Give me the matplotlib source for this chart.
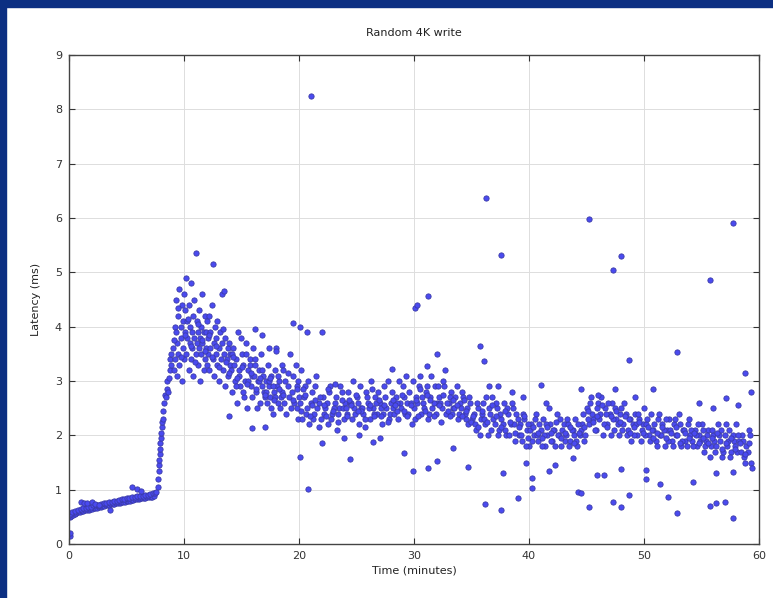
import matplotlib.pyplot as plt
from matplotlib.patches import Rectangle

# latency samples, grouped by phase of the test
warmup_t = [0.05, 0.2, 0.35, 0.5, 0.65, 0.8, 0.95, 1.1, 1.25, 1.4, 1.55, 1.7, 1.85, 2.0, 2.15, 2.3, 2.45,
            2.6, 2.75, 2.9, 3.05, 3.2, 3.35, 3.5, 3.65, 3.8, 3.95, 4.1, 4.25, 4.4, 4.55, 4.7, 4.85, 5.0,
            5.15, 5.3, 5.45, 5.6, 5.75, 5.9, 6.05, 6.2, 6.35, 6.5, 6.65, 6.8, 6.95, 7.1, 7.25, 7.4,
            0.1, 0.3, 0.55, 0.75, 1.0, 1.2, 1.45, 1.65, 1.9, 2.1, 2.35, 2.55, 2.8, 3.0, 3.25, 3.45, 3.7,
            3.9, 4.15, 4.35, 4.6, 4.8, 5.05, 5.25, 5.5, 5.7, 5.95, 6.15, 6.4, 6.6, 6.85, 7.05, 7.3, 7.45,
            1.0, 1.3, 1.6, 2.0, 2.3, 2.6, 5.5, 5.9, 6.3, 0.08, 0.12, 3.6]
warmup_ms = [0.50, 0.52, 0.54, 0.55, 0.57, 0.58, 0.59, 0.60, 0.61, 0.62, 0.63, 0.63, 0.64, 0.65, 0.66, 0.66,
             0.67, 0.68, 0.69, 0.70, 0.70, 0.71, 0.72, 0.72, 0.73, 0.74, 0.74, 0.75, 0.76, 0.76, 0.77, 0.78,
             0.78, 0.79, 0.80, 0.80, 0.81, 0.81, 0.82, 0.83, 0.83, 0.84, 0.84, 0.85, 0.85, 0.86, 0.86, 0.87,
             0.87, 0.88,
             0.56, 0.58, 0.61, 0.62, 0.64, 0.66, 0.67, 0.68, 0.69, 0.71, 0.72, 0.72, 0.74, 0.75, 0.76, 0.77,
             0.78, 0.79, 0.80, 0.81, 0.82, 0.83, 0.84, 0.84, 0.86, 0.87, 0.88, 0.89, 0.89, 0.90, 0.91, 0.92,
             0.93, 0.94,
             0.78, 0.75, 0.76, 0.78, 0.74, 0.72, 1.04, 1.02, 0.98, 0.15, 0.21, 0.62]

ramp_t = [7.6, 7.7, 7.75, 7.8, 7.8, 7.85, 7.9, 7.9, 7.95, 8.0, 8.0, 8.05, 8.1, 8.15, 8.2, 8.3, 8.35,
          8.4, 8.5, 8.55, 8.6, 8.7, 8.75, 8.8, 8.85, 8.9]
ramp_ms = [0.95, 1.05, 1.2, 1.35, 1.45, 1.55, 1.65, 1.75, 1.85, 1.95, 2.05, 2.15, 2.25, 2.3, 2.45, 2.6,
           2.75, 2.7, 2.85, 3.0, 2.8, 3.05, 3.2, 3.4, 3.3, 3.5]

peak_t = [9.0, 9.1, 9.2, 9.2, 9.3, 9.3, 9.4, 9.4, 9.5, 9.5, 9.6, 9.6, 9.7, 9.7, 9.8, 9.8, 9.9, 9.9, 10.0, 10.0,
          10.1, 10.1, 10.2, 10.2, 10.3, 10.3, 10.4, 10.4, 10.5, 10.5, 10.6, 10.6, 10.7, 10.7, 10.8, 10.8,
          10.9, 10.9, 11.0, 11.0,
          11.1, 11.1, 11.2, 11.2, 11.3, 11.3, 11.4, 11.4, 11.5, 11.5, 11.6, 11.6, 11.7, 11.7, 11.8, 11.8,
          11.9, 11.9, 12.0, 12.0,
          12.1, 12.1, 12.2, 12.2, 12.3, 12.3, 12.4, 12.5, 12.5, 12.6, 12.6, 12.7, 12.8, 12.8, 12.9, 12.9,
          13.0, 13.0, 13.1, 13.2,
          13.3, 13.3, 13.4, 13.5, 13.5, 13.6, 13.6, 13.7, 13.8, 13.8, 13.9, 13.9, 14.0, 14.0]
peak_ms = [3.6, 3.2, 4.0, 3.4, 3.9, 4.5, 3.1, 3.7, 4.2, 3.5, 4.7, 3.3, 4.0, 3.8, 4.4, 3.0, 3.6, 4.1, 4.6, 3.4,
           3.9, 4.3, 3.5, 4.9, 3.8, 4.1, 3.2, 4.4, 3.7, 4.0, 3.4, 4.8, 3.9, 3.6, 4.2, 3.1, 3.8, 4.5, 5.35, 3.5,
           3.7, 4.1, 3.3, 3.9, 4.3, 3.6, 3.0, 3.8, 4.0, 3.5, 4.6, 3.7, 3.2, 3.9, 4.2, 3.4, 3.6, 3.9, 4.1, 3.3,
           3.5, 3.8, 4.2, 3.2, 3.6, 3.9, 4.4, 5.15, 3.4, 3.7, 3.1, 4.0, 3.5, 3.8, 3.3, 4.1, 3.6, 3.0, 3.9, 3.4,
           3.7, 4.6, 3.2, 3.5, 4.65, 3.8, 2.9, 3.4, 3.6, 3.1, 2.35, 3.7, 3.3, 3.5]

settle_t = [14.1, 14.2, 14.3, 14.4, 14.5, 14.6, 14.7, 14.8, 14.9, 15.0, 15.1, 15.2, 15.3, 15.4, 15.5, 15.6,
            15.7, 15.8, 15.9, 16.0,
            14.15, 14.35, 14.55, 14.75, 14.95, 15.15, 15.35, 15.55, 15.75, 15.95, 16.1, 16.2, 16.3, 16.4,
            16.5, 16.6, 16.7, 16.8, 16.9, 17.0,
            16.15, 16.35, 16.55, 16.75, 16.95, 17.1, 17.2, 17.3, 17.4, 17.5, 17.6, 17.7, 17.8, 17.9, 18.0,
            18.1, 18.2, 18.3, 18.4, 18.5,
            17.15, 17.35, 17.55, 17.75, 17.95, 18.15, 18.35, 18.55, 18.6, 18.7, 18.8, 18.9, 19.0, 19.1, 19.2,
            19.3, 19.4, 19.5, 19.6, 19.5,
            19.8, 19.9, 20.0, 19.75, 19.85, 19.95, 20.05, 16.2, 16.8, 17.4, 18.0, 15.9, 17.0, 20.7]
settle_ms = [3.2, 2.8, 3.6, 3.0, 3.4, 2.6, 3.9, 3.1, 2.9, 3.5, 3.3, 2.7, 3.0, 3.7, 2.5, 3.2, 3.4, 2.9, 3.1, 3.6,
             3.5, 3.3, 2.9, 3.2, 3.8, 2.8, 3.5, 3.0, 3.3, 2.7, 3.1, 3.4, 2.8, 3.0, 3.2, 2.6, 3.5, 2.9, 3.1, 2.7,
             3.3, 2.5, 3.0, 3.2, 2.8, 3.0, 2.6, 3.3, 2.9, 2.7, 3.1, 2.4, 2.8, 3.2, 3.6, 2.9, 2.6, 3.0, 2.7, 3.3,
             2.8, 3.0, 2.5, 2.9, 2.7, 3.1, 2.5, 2.8, 3.2, 2.6, 3.0, 2.4, 2.9, 2.7, 3.5, 2.5, 2.8, 3.1, 2.6, 4.07,
             2.9, 2.3, 2.7, 3.3, 2.5, 3.0, 4.0, 3.95, 3.85, 3.6, 3.55, 2.13, 2.16, 3.91]

# extra samples between the rows above, 9-20 min
early_fill_t = [9.15, 9.45, 9.75, 10.05, 10.35, 10.65, 10.95, 11.25, 11.55, 11.85, 12.15, 12.45, 12.75,
                13.05, 13.35, 13.65, 13.95, 14.25, 14.65, 15.05, 15.45, 15.85, 16.25, 16.65, 17.05, 17.45,
                17.85, 18.25, 18.65, 19.05, 19.45, 19.85]
early_fill_ms = [3.75, 4.35, 3.45, 3.85, 4.15, 3.65, 3.35, 4.05, 3.75, 3.55, 3.85, 3.45, 3.65, 3.25, 3.95,
                 3.35, 3.15, 3.45, 3.05, 3.25, 2.95, 3.15, 2.85, 3.05, 2.75, 3.05, 2.65, 2.85, 2.75, 3.15,
                 2.65, 2.85]

steady_t = [20.1, 20.3, 20.5, 20.7, 20.9, 21.1, 21.3, 21.5, 21.7, 21.9, 22.1, 22.3, 22.5, 22.7, 22.9, 23.1,
            23.3, 23.5, 23.7, 23.9,
            20.2, 20.4, 20.6, 20.8, 21.0, 21.2, 21.4, 21.6, 21.8, 22.0, 22.2, 22.4, 22.6, 22.8, 23.0, 23.2,
            23.4, 23.6, 23.8, 24.0,
            24.2, 24.4, 24.6, 24.8, 25.0, 25.2, 25.4, 25.6, 25.8, 26.0, 26.2, 26.4, 26.6, 26.8, 27.0, 27.2,
            27.4, 27.6, 27.8, 28.0,
            24.1, 24.3, 24.5, 24.7, 24.9, 25.1, 25.3, 25.5, 25.7, 25.9, 26.1, 26.3, 26.5, 26.7, 26.9, 27.1,
            27.3, 27.5, 27.7, 27.9,
            28.2, 28.4, 28.6, 28.8, 29.0, 29.2, 29.4, 29.6, 29.8, 30.0, 30.2, 30.4, 30.6, 30.8, 31.0, 31.2,
            31.4, 31.6, 31.8, 32.0,
            28.1, 28.3, 28.5, 28.7, 28.9, 29.1, 29.3, 29.5, 29.7, 29.9, 30.1, 30.3, 30.5, 30.7, 30.9, 31.1,
            31.3, 31.5, 31.7, 31.9,
            32.2, 32.4, 32.6, 32.8, 33.0, 33.2, 33.4, 33.6, 33.8, 34.0, 34.2, 34.4, 34.6, 34.8, 35.0, 32.1,
            32.5, 32.9, 33.3, 33.7,
            34.1, 34.5, 34.9, 32.3, 32.7, 33.1, 33.5, 33.9, 34.3, 34.7,
            22.0, 23.9, 26.4, 29.1, 29.9, 31.2, 32.0, 33.4, 34.7, 27.0, 25.2, 28.1, 31.1, 32.0, 35.7]
steady_ms = [2.6, 2.3, 2.9, 2.5, 2.2, 2.8, 2.4, 3.1, 2.6, 2.3, 2.7, 2.5, 2.2, 2.9, 2.4, 2.6, 2.1, 2.5, 2.8, 2.3,
             3.2, 2.7, 2.4, 3.0, 2.6, 2.3, 2.9, 2.5, 2.7, 3.9, 2.4, 2.6, 2.8, 2.3, 2.5, 2.7, 2.4, 2.9, 2.5, 2.6,
             2.4, 2.6, 2.3, 2.5, 2.7, 2.2, 2.5, 2.4, 2.8, 2.6, 2.3, 2.5, 2.7, 2.4, 2.6, 2.2, 2.9, 2.5, 2.3, 2.6,
             2.5, 2.8, 2.6, 3.0, 2.4, 2.6, 2.9, 2.5, 2.3, 2.7, 2.5, 3.0, 2.4, 2.6, 2.8, 2.5, 2.4, 2.7, 3.0, 2.4,
             2.5, 2.7, 2.3, 2.6, 2.9, 2.4, 2.6, 2.8, 2.2, 2.5, 2.7, 2.9, 2.4, 2.6, 2.8, 2.3, 2.7, 2.5, 2.9, 2.6,
             2.8, 2.4, 2.6, 3.0, 2.5, 2.7, 3.1, 2.4, 2.6, 3.0, 2.3, 2.6, 3.1, 2.7, 2.5, 2.9, 2.4, 3.1, 2.6, 2.4,
             2.7, 2.5, 2.9, 2.4, 2.6, 2.8, 2.5, 2.7, 2.3, 2.6, 2.8, 2.4, 2.5, 2.7, 2.3, 2.9, 3.0, 2.6, 2.4, 2.9,
             2.5, 2.3, 2.6, 2.6, 3.2, 2.7, 2.5, 2.4, 2.7, 2.2,
             1.85, 1.95, 1.87, 1.68, 1.35, 1.40, 1.52, 1.77, 1.42, 1.95, 2.0, 3.22, 3.27, 3.5, 3.65]

steady_fill_t = [20.15, 20.55, 20.95, 21.35, 21.75, 22.15, 22.55, 22.95, 23.35, 23.75, 24.15, 24.55, 24.95,
                 25.35, 25.75, 26.15, 26.55, 26.95, 27.35, 27.75,
                 28.15, 28.55, 28.95, 29.35, 29.75, 30.15, 30.55, 30.95, 31.35, 31.75, 32.15, 32.55, 32.95,
                 33.35, 33.75, 34.15, 34.55, 34.95, 20.35, 21.15,
                 22.35, 23.15, 24.35, 25.15, 26.35, 27.15, 28.35, 29.15, 30.35, 31.15, 32.35, 33.15, 34.35]
steady_fill_ms = [2.45, 2.75, 2.35, 2.65, 2.15, 2.55, 2.85, 2.45, 2.25, 2.65, 2.35, 2.55, 2.75, 2.45, 2.15,
                  2.55, 2.35, 2.65, 2.55, 2.25,
                  2.65, 2.45, 2.75, 2.35, 2.55, 2.65, 2.85, 2.45, 2.65, 2.35, 2.55, 2.75, 2.45, 2.65, 2.55,
                  2.35, 2.45, 2.25, 2.85, 2.55,
                  2.35, 2.95, 2.65, 2.45, 2.85, 2.35, 2.55, 2.45, 2.35, 2.75, 2.25, 2.35, 2.65]

late_t = [35.2, 35.4, 35.6, 35.8, 36.0, 36.2, 36.4, 36.6, 36.8, 37.0, 37.2, 37.4, 37.6, 37.8, 38.0, 38.2,
          38.4, 38.6, 38.8, 39.0,
          35.3, 35.5, 35.7, 35.9, 36.1, 36.3, 36.5, 36.7, 36.9, 37.1, 37.3, 37.5, 37.7, 37.9, 38.1, 38.3,
          38.5, 38.7, 38.9, 39.1,
          39.2, 39.4, 39.6, 39.8, 40.0, 40.2, 40.4, 40.6, 40.8, 41.0, 41.2, 41.4, 41.6, 41.8, 42.0, 42.2,
          42.4, 42.6, 42.8, 43.0,
          39.3, 39.5, 39.7, 39.9, 40.1, 40.3, 40.5, 40.7, 40.9, 41.1, 41.3, 41.5, 41.7, 41.9, 42.1, 42.3,
          42.5, 42.7, 42.9, 43.1,
          43.2, 43.4, 43.6, 43.8, 44.0, 44.2, 44.4, 44.6, 44.8, 43.3, 43.5, 43.7, 43.9, 44.1, 44.3, 44.5,
          44.7, 44.9,
          45.0, 45.2, 45.4, 45.6, 45.8, 46.0, 46.2, 46.4, 46.6, 46.8, 47.0, 47.2, 47.4, 47.6, 47.8, 48.0,
          48.2, 48.4, 48.6, 48.8,
          45.1, 45.3, 45.5, 45.7, 45.9, 46.1, 46.3, 46.5, 46.7, 46.9, 47.1, 47.3, 47.5, 47.7, 47.9, 48.1,
          48.3, 48.5, 48.7, 48.9,
          49.0, 49.2, 49.4, 49.6, 49.8, 50.0, 49.1, 49.3, 49.5, 49.7, 49.9,
          50.2, 50.4, 50.6, 50.8, 51.0, 51.2, 51.4, 51.6, 51.8, 52.0, 52.2, 52.4, 52.6, 52.8, 53.0, 53.2,
          53.4, 53.6, 53.8, 54.0,
          50.1, 50.3, 50.5, 50.7, 50.9, 51.1, 51.3, 51.5, 51.7, 51.9, 52.1, 52.3, 52.5, 52.7, 52.9, 53.1,
          53.3, 53.5, 53.7, 53.9,
          54.2, 54.4, 54.6, 54.8, 55.0, 55.2, 55.4, 55.6, 55.8, 56.0, 56.2, 56.4, 56.6, 56.8, 57.0, 57.2,
          57.4, 57.6, 57.8, 58.0,
          54.1, 54.3, 54.5, 54.7, 54.9, 55.1, 55.3, 55.5, 55.7, 55.9, 56.1, 56.3, 56.5, 56.7, 56.9, 57.1,
          57.3, 57.5, 57.7, 57.9,
          58.1, 58.3, 58.5, 58.7, 58.9, 59.1, 59.3, 58.2, 58.4, 58.6, 58.8, 59.0, 59.2, 59.4,
          46.0, 47.5, 49.2, 54.8, 56.0, 58.2, 39.5, 41.5, 37.3, 38.5, 36.5, 36.1, 41.0,
          44.5, 50.8, 57.1, 59.3]
late_ms = [2.4, 2.1, 2.5, 2.3, 2.6, 2.2, 2.0, 2.4, 2.7, 2.2, 2.5, 2.1, 2.3, 2.6, 2.0, 2.4, 2.2, 2.5, 1.9, 2.3,
           2.2, 2.6, 2.0, 2.4, 2.3, 2.7, 2.5, 2.1, 2.3, 2.6, 2.0, 2.4, 2.2, 2.1, 2.5, 2.0, 2.6, 2.2, 2.4, 2.0,
           2.2, 1.9, 2.3, 2.1, 1.8, 2.2, 2.0, 2.4, 1.9, 2.1, 2.3, 1.8, 2.0, 2.2, 1.9, 2.1, 2.4, 2.0, 1.8, 2.2,
           2.0, 2.4, 1.8, 2.2, 2.1, 1.9, 2.3, 2.0, 2.2, 1.8, 2.0, 2.2, 2.5, 1.9, 2.1, 1.8, 2.0, 2.3, 2.1, 1.9,
           2.0, 2.2, 1.9, 2.1, 2.3, 1.8, 2.0, 2.2, 1.9, 2.3, 1.8, 2.1, 2.0, 1.9, 2.2, 2.1, 2.4, 2.0,
           2.5, 2.2, 2.7, 2.3, 2.1, 2.6, 2.4, 2.0, 2.5, 2.2, 2.4, 2.6, 2.1, 2.3, 2.0, 2.5, 2.2, 2.4, 2.1, 2.3,
           2.3, 2.6, 2.4, 2.1, 2.5, 2.3, 2.7, 2.2, 2.4, 2.6, 2.0, 2.3, 2.5, 2.2, 2.4, 2.1, 2.6, 2.0, 2.3, 1.9,
           2.2, 2.4, 2.0, 2.3, 2.1, 2.5, 2.0, 2.2, 2.4, 1.9, 2.2,
           2.2, 2.0, 2.4, 2.1, 1.9, 2.3, 2.0, 2.2, 1.8, 2.1, 2.3, 1.9, 2.2, 2.0, 2.4, 1.8, 2.1, 1.9, 2.2, 2.0,
           2.0, 2.3, 1.9, 2.1, 2.2, 1.8, 2.4, 2.0, 2.1, 2.3, 1.9, 2.1, 1.8, 2.3, 2.0, 2.2, 1.9, 2.1, 1.8, 2.3,
           1.9, 2.1, 1.8, 2.0, 2.2, 1.7, 1.9, 2.1, 1.8, 2.0, 1.7, 2.2, 1.9, 1.6, 2.0, 1.8, 2.1, 1.7, 1.9, 2.2,
           2.1, 1.8, 2.0, 2.2, 1.9, 2.1, 1.8, 2.0, 1.6, 2.1, 1.9, 1.8, 2.0, 2.1, 1.7, 2.2, 1.9, 1.6, 2.0, 1.8,
           1.7, 1.9, 2.0, 1.6, 1.8, 2.1, 1.5, 2.0, 1.7, 1.9, 1.5, 1.7, 2.0, 1.4,
           2.75, 2.85, 2.7, 2.6, 2.5, 2.55, 2.7, 2.6, 2.9, 2.8, 2.9, 3.37, 2.93,
           2.85, 2.85, 2.68, 2.8]

late_fill_t = [35.15, 35.55, 35.95, 36.35, 36.75, 37.15, 37.55, 37.95, 38.35, 38.75, 39.15, 39.55, 39.95,
               40.35, 40.75, 41.15, 41.55, 41.95, 42.35, 42.75,
               43.15, 43.55, 43.95, 44.35, 44.75, 45.15, 45.55, 45.95, 46.35, 46.75, 47.15, 47.55, 47.95,
               48.35, 48.75, 49.15, 49.55, 49.95, 50.35, 50.75,
               51.15, 51.55, 51.95, 52.35, 52.75, 53.15, 53.55, 53.95, 54.35, 54.75, 55.15, 55.55, 55.95,
               56.35, 56.75, 57.15, 57.55, 57.95, 58.35, 58.75, 59.15]
late_fill_ms = [2.35, 2.15, 2.45, 2.25, 2.55, 2.35, 2.15, 2.45, 2.25, 2.05, 2.15, 2.35, 1.95, 2.15, 2.05,
                1.95, 2.15, 2.05, 2.25, 1.95,
                2.05, 2.15, 1.85, 2.05, 2.15, 2.45, 2.25, 2.35, 2.55, 2.15, 2.35, 2.45, 2.25, 2.35, 2.05,
                2.15, 2.25, 2.05, 2.15, 1.95,
                2.05, 2.15, 1.95, 2.05, 2.15, 1.85, 2.05, 1.95, 2.05, 1.85, 1.95, 1.85, 1.95, 2.05, 1.75,
                1.85, 1.95, 1.75, 1.85, 1.65, 1.85]

# isolated spikes and dips
outlier_t = [21.0, 36.3, 37.6, 45.2, 47.3, 48.0, 55.7, 57.7, 30.1, 30.3, 31.2, 52.9, 48.7, 58.8,
             20.8, 20.1, 24.4, 36.2, 37.7, 37.6, 39.0, 40.3, 40.3, 39.7, 41.7, 42.3, 44.3, 43.8,
             44.5, 45.2, 45.9, 46.5, 47.3, 48.0, 48.0, 48.7, 50.2, 50.2, 51.4, 52.1, 52.9, 54.3,
             55.7, 56.3, 57.0, 57.7, 57.7, 56.3]
outlier_ms = [8.25, 6.37, 5.32, 5.98, 5.05, 5.30, 4.85, 5.91, 4.35, 4.40, 4.57, 3.54, 3.39, 3.14,
              1.01, 1.60, 1.57, 0.74, 1.31, 0.63, 0.85, 1.22, 1.03, 1.49, 1.34, 1.46, 0.96, 1.58,
              0.93, 0.68, 1.27, 1.27, 0.77, 0.69, 1.38, 0.90, 1.36, 1.19, 1.10, 0.87, 0.57, 1.15,
              0.70, 0.75, 0.78, 0.48, 1.33, 1.30]

x_ticks = [0, 10, 20, 30, 40, 50, 60]
y_ticks = [0, 1, 2, 3, 4, 5, 6, 7, 8, 9]

fig = plt.figure(figsize=(7.73, 5.98), dpi=100)
fig.patch.set_facecolor("white")
# navy slide frame along the top and left edge
fig.patches.append(Rectangle((0, 1 - 7 / 598), 1, 7 / 598, transform=fig.transFigure,
                             color="#0c2f82", zorder=0))
fig.patches.append(Rectangle((0, 0), 6 / 773, 1, transform=fig.transFigure,
                             color="#0c2f82", zorder=0))

ax = fig.add_axes([69 / 773, 54 / 598, 690 / 773, 489 / 598])

groups = [(warmup_t, warmup_ms), (ramp_t, ramp_ms), (peak_t, peak_ms), (settle_t, settle_ms),
          (early_fill_t, early_fill_ms), (steady_t, steady_ms), (steady_fill_t, steady_fill_ms),
          (late_t, late_ms), (late_fill_t, late_fill_ms), (outlier_t, outlier_ms)]
for ts, ms in groups:
    ax.plot(ts, ms, ls="none", marker="o", ms=3.8, mfc="#4a4af0", mec="#3a3aa8", mew=0.6)

ax.set_xlim(0, 60)
ax.set_ylim(0, 9)
ax.set_xticks(x_ticks)
ax.set_yticks(y_ticks)
ax.grid(True, color="#dddddd", linestyle="-", linewidth=0.7)
ax.set_axisbelow(True)
ax.tick_params(direction="in", top=True, right=True, length=4, width=0.8,
               labelsize=8, labelcolor="#333333", color="#333333", pad=5)
for side in ax.spines.values():
    side.set_color("#444444")
    side.set_linewidth(1.0)

ax.set_title("Random 4K write", fontsize=8, color="#222222", pad=14)
ax.set_xlabel("Time (minutes)", fontsize=8, color="#222222", labelpad=3)
ax.set_ylabel("Latency (ms)", fontsize=8, color="#222222", labelpad=10)

fig.savefig("out.png", dpi=100)
